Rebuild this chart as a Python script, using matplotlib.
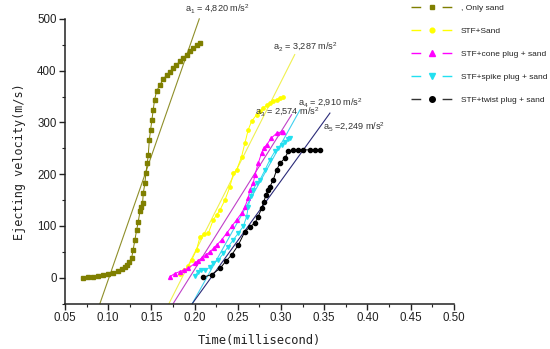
import matplotlib
matplotlib.use("Agg")
import matplotlib.pyplot as plt
from matplotlib.lines import Line2D
from matplotlib.ticker import MultipleLocator

plt.rcParams['font.family'] = ['Liberation Sans', 'DejaVu Sans']
plt.rcParams['mathtext.fontset'] = 'custom'
plt.rcParams['mathtext.rm'] = 'Liberation Sans'
plt.rcParams['mathtext.it'] = 'Liberation Sans:italic'

# ---- data (time in ms, velocity in m/s) ----
sand_t = [0.0712, 0.0770, 0.0828, 0.0886, 0.0944, 0.1000, 0.1060, 0.1110, 0.1156, 0.1190,
          0.1214, 0.1245, 0.1272, 0.1290, 0.1310, 0.1330, 0.1349, 0.1368, 0.1385, 0.1399,
          0.1407, 0.1426, 0.1437, 0.1453, 0.1465, 0.1477, 0.1492, 0.1507, 0.1522, 0.1538,
          0.1561, 0.1600, 0.1640, 0.1677, 0.1715, 0.1755, 0.1790, 0.1831, 0.1870, 0.1909,
          0.1950, 0.1985, 0.2025, 0.2063]
sand_v = [0, 1, 2, 3, 5, 7, 10, 13, 16, 20,
          25, 31, 38, 54, 73, 92, 108, 128, 136, 144,
          163, 183, 202, 221, 237, 266, 286, 305, 324, 344,
          360, 373, 383, 392, 398, 405, 411, 418, 424, 431,
          438, 444, 449, 453]

stf_t = [0.1830, 0.1880, 0.1927, 0.1966, 0.2024, 0.2063, 0.2110, 0.2160, 0.2217, 0.2260,
         0.2295, 0.2352, 0.2410, 0.2450, 0.2487, 0.2545, 0.2583, 0.2622, 0.2660, 0.2719,
         0.2760, 0.2795, 0.2840, 0.2873, 0.2910, 0.2950, 0.2990, 0.3027]
stf_v = [8, 14, 22, 34, 54, 79, 84, 86, 112, 122,
         131, 150, 176, 202, 208, 234, 260, 286, 302, 315,
         322, 328, 333, 337, 341, 344, 347, 349]

cone_t = [0.1715, 0.1770, 0.1830, 0.1880, 0.1927, 0.2005, 0.2040, 0.2082, 0.2130, 0.2178,
          0.2220, 0.2256, 0.2313, 0.2371, 0.2430, 0.2487, 0.2545, 0.2583, 0.2622, 0.2640,
          0.2680, 0.2700, 0.2737, 0.2776, 0.2800, 0.2835, 0.2890, 0.2950, 0.3008, 0.3027]
cone_v = [2, 8, 12, 15, 18, 28, 33, 38, 44, 50,
          57, 63, 73, 86, 99, 112, 125, 137, 154, 170,
          183, 199, 221, 241, 250, 257, 270, 279, 282, 282]

spike_t = [0.2005, 0.2043, 0.2080, 0.2120, 0.2178, 0.2217, 0.2274, 0.2333, 0.2390, 0.2448,
           0.2506, 0.2564, 0.2603, 0.2622, 0.2650, 0.2680, 0.2719, 0.2757, 0.2815, 0.2873,
           0.2930, 0.2970, 0.3008, 0.3050, 0.3085, 0.3110]
spike_v = [3, 12, 14, 15, 20, 28, 34, 47, 60, 73,
           86, 99, 118, 137, 157, 170, 183, 189, 208, 228,
           244, 250, 257, 263, 268, 270]

twist_t = [0.2100, 0.2197, 0.2295, 0.2363, 0.2430, 0.2506, 0.2583, 0.2640, 0.2700, 0.2737,
           0.2776, 0.2803, 0.2826, 0.2853, 0.2873, 0.2911, 0.2950, 0.2988, 0.3046, 0.3085,
           0.3142, 0.3200, 0.3260, 0.3336, 0.3400, 0.3450]
twist_v = [1, 6, 18, 32, 44, 63, 89, 98, 106, 118,
           134, 147, 160, 170, 176, 189, 208, 221, 231, 244,
           247, 247, 247, 247, 247, 247]

# linear fits: start/end points
fit_t0 = [0.0905, 0.1704, 0.1753, 0.1974, 0.1974]
fit_v0 = [-50, -50, -50, -50, -50]
fit_t1 = [0.2055, 0.3160, 0.3124, 0.3220, 0.3567]
fit_v1 = [500, 431, 315, 324, 318]

fit_labels = ['a$_1$ = 4,820 m/s$^2$', 'a$_2$ = 3,287 m/s$^2$', 'a$_3$ = 2,574 m/s$^2$',
              'a$_4$ = 2,910 m/s$^2$', 'a$_5$ =2,249 m/s$^2$']
label_t = [0.1889, 0.2907, 0.2700, 0.3197, 0.3486]
label_v = [520, 446, 320, 338, 291]

series_names = [', Only sand', 'STF+Sand', 'STF+cone plug + sand',
                'STF+spike plug + sand', 'STF+twist plug + sand']

# ---- styles ----
colors = ['#7f7f00', '#ffff00', '#ff00ff', '#22e0f0', '#000000']
fit_colors = ['#8f8f2a', '#f0f050', '#c040c8', '#40d0f0', '#2a2a78']
markers = ['s', 'o', '^', 'v', 'o']
msizes = [2.4, 2.4, 2.8, 2.8, 3.0]
leg_line_colors = ['#7f7f00', '#ffff00', '#ff00ff', '#22e0f0', '#333333']

fig = plt.figure(figsize=(5.5, 3.49), dpi=100)
ax = fig.add_axes([0.118, 0.130, 0.707, 0.816])

data = [(sand_t, sand_v), (stf_t, stf_v), (cone_t, cone_v), (spike_t, spike_v), (twist_t, twist_v)]
for i, (t, v) in enumerate(data):
    ax.plot(t, v, color=colors[i], lw=0.7, marker=markers[i], ms=msizes[i],
            mec=colors[i], mfc=colors[i], zorder=3)

for i in range(5):
    ax.plot([fit_t0[i], fit_t1[i]], [fit_v0[i], fit_v1[i]], color=fit_colors[i], lw=0.8,
            zorder=2, clip_on=False)
    ax.text(label_t[i], label_v[i], fit_labels[i], fontsize=6.6, color='#333333',
            ha='left', va='center', clip_on=False)

ax.set_xlim(0.05, 0.50)
ax.set_ylim(-50, 500)
ax.xaxis.set_major_locator(MultipleLocator(0.05))
ax.xaxis.set_minor_locator(MultipleLocator(0.025))
ax.yaxis.set_major_locator(MultipleLocator(100))
ax.yaxis.set_minor_locator(MultipleLocator(50))
ax.set_xticks([0.05, 0.10, 0.15, 0.20, 0.25, 0.30, 0.35, 0.40, 0.45, 0.50])
ax.set_xticklabels(['0.05', '0.10', '0.15', '0.20', '0.25', '0.30', '0.35', '0.40', '0.45', '0.50'])
ax.set_yticks([0, 100, 200, 300, 400, 500])
ax.set_yticklabels(['0', '100', '200', '300', '400', '500'])

for s in ['top', 'right']:
    ax.spines[s].set_visible(False)
for s in ['left', 'bottom']:
    ax.spines[s].set_color('#222222')
    ax.spines[s].set_linewidth(1.1)
ax.tick_params(which='major', direction='out', length=4, width=1.0, color='#222222',
               labelsize=8.3, labelcolor='#222222', pad=2)
ax.tick_params(which='minor', direction='out', length=2.5, width=0.8, color='#222222')

ax.set_xlabel('Time(millisecond)', family='DejaVu Sans Mono', fontsize=8.7,
              color='#222222', labelpad=7)
ax.set_ylabel('Ejecting velocity(m/s)', family='DejaVu Sans Mono', fontsize=8.5,
              color='#222222', labelpad=8)

handles = []
for i in range(5):
    ln = Line2D([], [], color=leg_line_colors[i], lw=1.0, linestyle=(0, (7.0, 15.4)))
    mk = Line2D([], [], color=colors[i], linestyle='none', marker=markers[i], ms=msizes[i] + 1.0)
    handles.append((ln, mk))
leg = fig.legend(handles, series_names, loc='upper left', bbox_to_anchor=(0.734, 1.010),
                 frameon=False, fontsize=6.0, handlelength=4.95, handletextpad=1.0,
                 labelspacing=1.83, numpoints=1)
for txt in leg.get_texts():
    txt.set_color('#222222')

fig.savefig('out.png', dpi=100)
